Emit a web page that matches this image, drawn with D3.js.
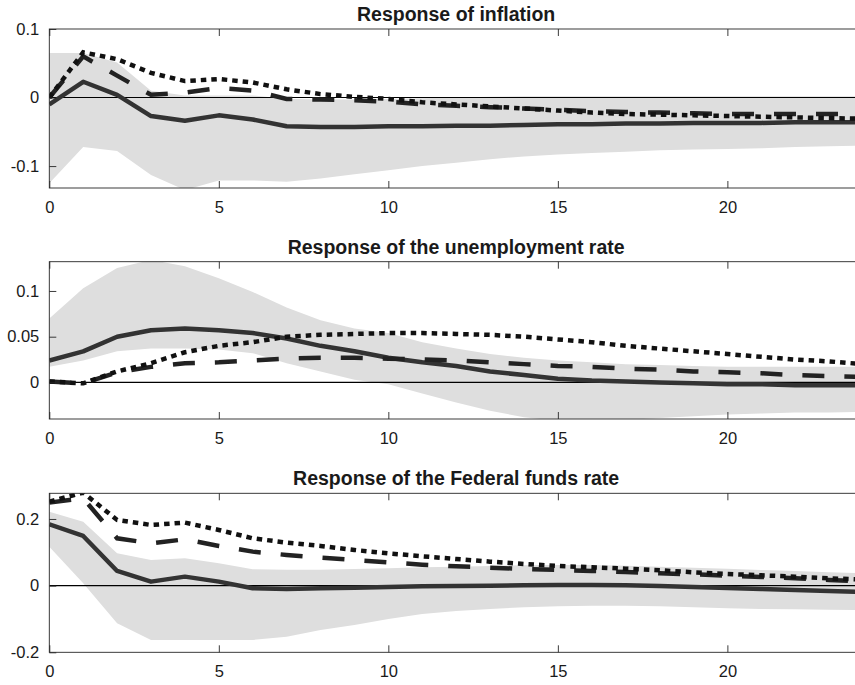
<!DOCTYPE html>
<html>
<head>
<meta charset="utf-8">
<script src="https://cdn.jsdelivr.net/npm/d3@7/dist/d3.min.js"></script>
<style>
  body { margin: 0; background: #fff; }
  svg { display: block; }
  text { font-family: "Liberation Sans", Arial, Helvetica, sans-serif; fill: #1a1a1a; }
</style>
</head>
<body>
<svg id="chart" width="855" height="685"></svg>
<script>
///// *** DATA *** /////
var horizon = [0, 1, 2, 3, 4, 5, 6, 7, 8, 9, 10, 11, 12, 13, 14, 15, 16, 17, 18, 19, 20, 21, 22, 23, 24],
    xTicks = [0, 5, 10, 15, 20];

// response of inflation
var inflSolid  = [-0.010, 0.023, 0.004, -0.027, -0.034, -0.026, -0.032, -0.042, -0.043, -0.043, -0.042, -0.042, -0.041, -0.041, -0.040, -0.039, -0.039, -0.038, -0.038, -0.037, -0.037, -0.037, -0.036, -0.036, -0.036],
    inflDashed = [0.000, 0.060, 0.032, 0.004, 0.007, 0.014, 0.010, -0.002, -0.003, -0.004, -0.006, -0.010, -0.012, -0.014, -0.016, -0.018, -0.020, -0.021, -0.022, -0.023, -0.024, -0.024, -0.024, -0.024, -0.024],
    inflDotted = [0.000, 0.066, 0.056, 0.036, 0.024, 0.027, 0.022, 0.012, 0.005, 0.001, -0.002, -0.007, -0.010, -0.013, -0.016, -0.019, -0.022, -0.024, -0.025, -0.026, -0.027, -0.028, -0.029, -0.030, -0.031],
    inflUpper  = [0.065, 0.065, 0.051, 0.010, 0.003, 0.003, 0.003, -0.002, -0.003, -0.003, -0.002, -0.001, 0.000, 0.001, 0.002, 0.002, 0.002, 0.002, 0.002, 0.002, 0.002, 0.002, 0.002, 0.002, 0.002],
    inflLower  = [-0.125, -0.072, -0.078, -0.113, -0.135, -0.121, -0.121, -0.123, -0.118, -0.112, -0.106, -0.100, -0.095, -0.090, -0.086, -0.083, -0.081, -0.079, -0.077, -0.076, -0.075, -0.074, -0.072, -0.071, -0.070],
    inflTicks  = [-0.1, 0, 0.1];

// response of the unemployment rate
var unempSolid  = [0.024, 0.034, 0.050, 0.057, 0.059, 0.057, 0.054, 0.048, 0.040, 0.034, 0.027, 0.022, 0.018, 0.012, 0.008, 0.004, 0.002, 0.001, 0.000, -0.001, -0.002, -0.002, -0.003, -0.003, -0.003],
    unempDashed = [0.001, -0.001, 0.011, 0.017, 0.021, 0.022, 0.024, 0.026, 0.027, 0.027, 0.026, 0.025, 0.024, 0.022, 0.020, 0.018, 0.017, 0.015, 0.014, 0.012, 0.011, 0.010, 0.008, 0.007, 0.006],
    unempDotted = [0.001, -0.001, 0.012, 0.021, 0.033, 0.040, 0.044, 0.050, 0.052, 0.053, 0.054, 0.054, 0.053, 0.052, 0.050, 0.047, 0.044, 0.040, 0.037, 0.034, 0.031, 0.028, 0.025, 0.023, 0.020],
    unempUpper  = [0.070, 0.103, 0.125, 0.134, 0.127, 0.114, 0.099, 0.082, 0.068, 0.059, 0.054, 0.044, 0.037, 0.031, 0.027, 0.024, 0.022, 0.020, 0.019, 0.018, 0.017, 0.017, 0.017, 0.017, 0.017],
    unempLower  = [0.017, 0.024, 0.034, 0.037, 0.037, 0.036, 0.032, 0.021, 0.012, 0.003, -0.002, -0.012, -0.022, -0.031, -0.038, -0.042, -0.042, -0.041, -0.039, -0.037, -0.035, -0.034, -0.033, -0.033, -0.032],
    unempTicks  = [0, 0.05, 0.1];

// response of the Federal funds rate
var ffrSolid  = [0.184, 0.149, 0.044, 0.012, 0.027, 0.012, -0.008, -0.010, -0.008, -0.006, -0.004, -0.002, -0.001, 0.000, 0.001, 0.002, 0.002, 0.001, -0.001, -0.004, -0.007, -0.010, -0.013, -0.016, -0.019],
    ffrDashed = [0.249, 0.262, 0.142, 0.127, 0.139, 0.119, 0.102, 0.092, 0.084, 0.077, 0.070, 0.063, 0.058, 0.054, 0.050, 0.047, 0.044, 0.041, 0.037, 0.034, 0.030, 0.026, 0.022, 0.017, 0.013],
    ffrDotted = [0.252, 0.279, 0.197, 0.182, 0.189, 0.167, 0.142, 0.129, 0.119, 0.107, 0.097, 0.088, 0.080, 0.072, 0.065, 0.059, 0.055, 0.051, 0.046, 0.040, 0.035, 0.031, 0.027, 0.022, 0.018],
    ffrUpper  = [0.222, 0.192, 0.097, 0.077, 0.082, 0.067, 0.049, 0.048, 0.048, 0.050, 0.052, 0.055, 0.057, 0.059, 0.061, 0.062, 0.062, 0.060, 0.057, 0.054, 0.051, 0.047, 0.044, 0.040, 0.037],
    ffrLower  = [0.117, 0.007, -0.113, -0.163, -0.163, -0.163, -0.163, -0.153, -0.133, -0.118, -0.100, -0.085, -0.076, -0.070, -0.065, -0.062, -0.060, -0.060, -0.062, -0.065, -0.068, -0.070, -0.071, -0.072, -0.073],
    ffrTicks  = [-0.2, 0, 0.2];

///// *** LAYOUT *** /////
var svg = d3.select('#chart'),
    left = 49.3,
    right = 863,
    bandColor = '#dedede';

var panels = [
  { title: 'Response of inflation', top: 29, bottom: 188, domain: [-0.132, 0.1],
    solid: inflSolid, dashed: inflDashed, dotted: inflDotted, upper: inflUpper, lower: inflLower, ticks: inflTicks },
  { title: 'Response of the unemployment rate', top: 261.7, bottom: 419, domain: [-0.04, 0.132],
    solid: unempSolid, dashed: unempDashed, dotted: unempDotted, upper: unempUpper, lower: unempLower, ticks: unempTicks },
  { title: 'Response of the Federal funds rate', top: 493.3, bottom: 652.3, domain: [-0.2, 0.277],
    solid: ffrSolid, dashed: ffrDashed, dotted: ffrDotted, upper: ffrUpper, lower: ffrLower, ticks: ffrTicks }
];

var x = d3.scaleLinear().domain([0, 24]).range([left, right]);

panels.forEach(drawPanel);

function drawPanel(p, k){
  var y = d3.scaleLinear().domain(p.domain).range([p.bottom, p.top]);
  var g = svg.append('g');

  g.append('clipPath').attr('id', 'clip' + k)
    .append('rect')
    .attr('x', left).attr('y', p.top)
    .attr('width', right - left).attr('height', p.bottom - p.top);

  var plot = g.append('g').attr('clip-path', 'url(#clip' + k + ')');

  //confidence band
  var area = d3.area()
    .x(function(d) { return x(d); })
    .y0(function(d, i) { return y(p.lower[i]); })
    .y1(function(d, i) { return y(p.upper[i]); });
  plot.append('path').datum(horizon)
    .attr('d', area)
    .attr('fill', bandColor);

  //zero line
  plot.append('line')
    .attr('x1', x(0)).attr('x2', x(24))
    .attr('y1', y(0)).attr('y2', y(0))
    .attr('stroke', '#000').attr('stroke-width', 1.1);

  var line = function(vals){
    return d3.line()
      .x(function(d) { return x(d); })
      .y(function(d, i) { return y(vals[i]); })(horizon);
  };

  plot.append('path').attr('d', line(p.solid))
    .attr('fill', 'none').attr('stroke', '#333').attr('stroke-width', 4.5)
    .attr('stroke-linejoin', 'round');
  plot.append('path').attr('d', line(p.dashed))
    .attr('fill', 'none').attr('stroke', '#222').attr('stroke-width', 4.5)
    .attr('stroke-dasharray', '22,20');
  plot.append('path').attr('d', line(p.dotted))
    .attr('fill', 'none').attr('stroke', '#111').attr('stroke-width', 4.5)
    .attr('stroke-dasharray', '5.5,5');

  //axes box and ticks
  g.append('rect')
    .attr('x', left).attr('y', p.top)
    .attr('width', right - left).attr('height', p.bottom - p.top)
    .attr('fill', 'none').attr('stroke', '#262626').attr('stroke-width', 0.9);

  var fmt = function(d) { return String(d); };

  var xb = g.append('g').attr('transform', 'translate(0,' + p.bottom + ')')
    .call(d3.axisBottom(x).tickValues(xTicks).tickSize(-7).tickPadding(13).tickFormat(fmt));
  var xt = g.append('g').attr('transform', 'translate(0,' + p.top + ')')
    .call(d3.axisTop(x).tickValues(xTicks).tickSize(-7).tickFormat(''));
  var yl = g.append('g').attr('transform', 'translate(' + left + ',0)')
    .call(d3.axisLeft(y).tickValues(p.ticks).tickSize(-7).tickPadding(10).tickFormat(fmt));
  var yr = g.append('g').attr('transform', 'translate(' + right + ',0)')
    .call(d3.axisRight(y).tickValues(p.ticks).tickSize(-7).tickFormat(''));

  [xb, xt, yl, yr].forEach(function(a){
    a.select('.domain').remove();
    a.selectAll('line').attr('stroke', '#262626').attr('stroke-width', 0.9);
    a.selectAll('text').attr('font-size', 16.5).attr('fill', '#1a1a1a')
      .attr('font-family', '"Liberation Sans", Arial, Helvetica, sans-serif');
  });

  //title
  g.append('text')
    .attr('x', (left + right) / 2)
    .attr('y', p.top - 8)
    .attr('text-anchor', 'middle')
    .attr('font-size', 19.5)
    .attr('font-weight', 'bold')
    .text(p.title);
}
</script>
</body>
</html>
